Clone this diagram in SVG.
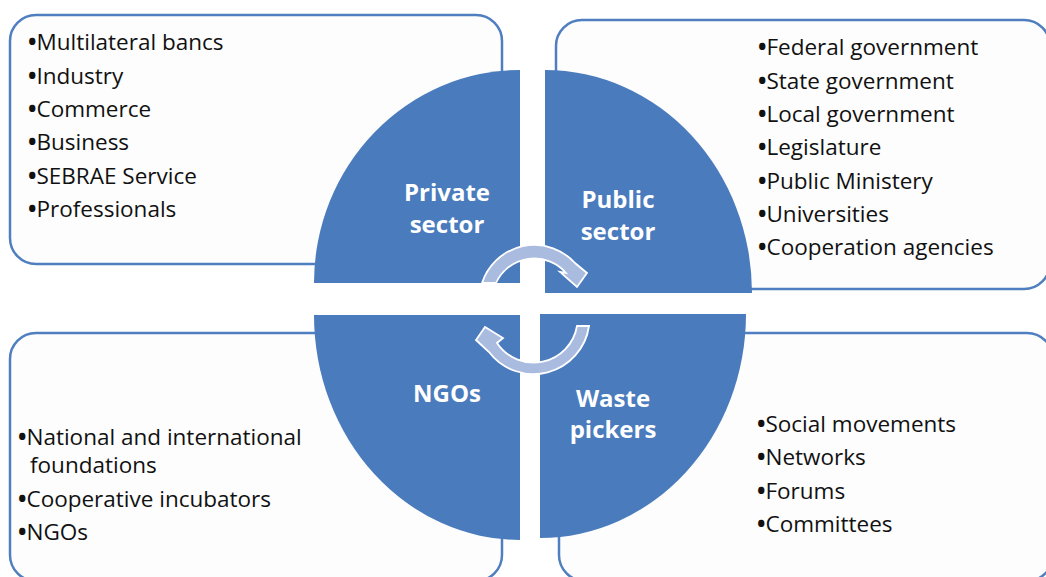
<svg xmlns="http://www.w3.org/2000/svg" width="1046" height="577" viewBox="0 0 1046 577">
<style>
.box{fill:#fdfdfd;stroke:#4f7fc0;stroke-width:2.5}
.wedge{fill:#4a7bbd}
.item{font-family:"Open Sans","DejaVu Sans",sans-serif;font-size:22.5px;fill:#111}
.bu{font-weight:bold}
.lbl{font-family:"Open Sans","DejaVu Sans",sans-serif;font-size:24px;font-weight:bold;fill:#fff;text-anchor:middle}
.arr{fill:#aabbe0;stroke:#fff;stroke-width:1.8;stroke-linejoin:miter}
</style>
<rect width="1046" height="577" fill="#fff"/>
<g id="box-private">
<rect class="box" x="10" y="15" width="492" height="249" rx="26"/>
<text class="item" x="28" y="50"><tspan class="bu">•</tspan>Multilateral bancs</text>
<text class="item" x="28" y="83.5"><tspan class="bu">•</tspan>Industry</text>
<text class="item" x="28" y="117"><tspan class="bu">•</tspan>Commerce</text>
<text class="item" x="28" y="150"><tspan class="bu">•</tspan>Business</text>
<text class="item" x="28" y="183.5"><tspan class="bu">•</tspan>SEBRAE Service</text>
<text class="item" x="28" y="217"><tspan class="bu">•</tspan>Professionals</text>
</g>
<g id="box-public">
<rect class="box" x="556" y="20" width="494" height="269" rx="26"/>
<text class="item" x="758" y="55"><tspan class="bu">•</tspan>Federal government</text>
<text class="item" x="758" y="88.5"><tspan class="bu">•</tspan>State government</text>
<text class="item" x="758" y="122"><tspan class="bu">•</tspan>Local government</text>
<text class="item" x="758" y="155"><tspan class="bu">•</tspan>Legislature</text>
<text class="item" x="758" y="188.5"><tspan class="bu">•</tspan>Public Ministery</text>
<text class="item" x="758" y="222"><tspan class="bu">•</tspan>Universities</text>
<text class="item" x="758" y="255"><tspan class="bu">•</tspan>Cooperation agencies</text>
</g>
<g id="box-ngos">
<rect class="box" x="10" y="333" width="492" height="248" rx="26"/>
<text class="item" x="18" y="445"><tspan class="bu">•</tspan>National and international</text>
<text class="item" x="30" y="473">foundations</text>
<text class="item" x="18" y="507"><tspan class="bu">•</tspan>Cooperative incubators</text>
<text class="item" x="18" y="540"><tspan class="bu">•</tspan>NGOs</text>
</g>
<g id="box-waste">
<rect class="box" x="559" y="333" width="494" height="248" rx="26"/>
<text class="item" x="757" y="432"><tspan class="bu">•</tspan>Social movements</text>
<text class="item" x="757" y="465"><tspan class="bu">•</tspan>Networks</text>
<text class="item" x="757" y="498.5"><tspan class="bu">•</tspan>Forums</text>
<text class="item" x="757" y="532"><tspan class="bu">•</tspan>Committees</text>
</g>
<g id="wedge-private">
<path class="wedge" d="M520,283 L314,283 A206 213 0 0 1 520,70 Z"/>
<text class="lbl" x="447" y="201">Private</text>
<text class="lbl" x="447" y="233">sector</text>
</g>
<g id="wedge-public">
<path class="wedge" d="M545,293 L545,70 A207 223 0 0 1 752,293 Z"/>
<text class="lbl" x="618" y="208">Public</text>
<text class="lbl" x="618" y="240">sector</text>
</g>
<g id="wedge-ngos">
<path class="wedge" d="M520,315 L520,540 A206 225 0 0 1 314,315 Z"/>
<text class="lbl" x="447" y="402">NGOs</text>
</g>
<g id="wedge-waste">
<path class="wedge" d="M540,314 L746,314 A206 224 0 0 1 540,538 Z"/>
<text class="lbl" x="613" y="407">Waste</text>
<text class="lbl" x="613" y="438">pickers</text>
</g>
<g id="connectors">
<path class="arr" d="M482,283 A55 55 0 0 1 575,263 L587,273 L577,287 L560,272 L566,273 A42 42 0 0 0 496,283 Z"/>
<path class="arr" d="M589,326 A56 56 0 0 1 489,352 L476,340 L485,327 L503,338 L497,343 A44 44 0 0 0 577,326 Z"/>
</g>
</svg>
